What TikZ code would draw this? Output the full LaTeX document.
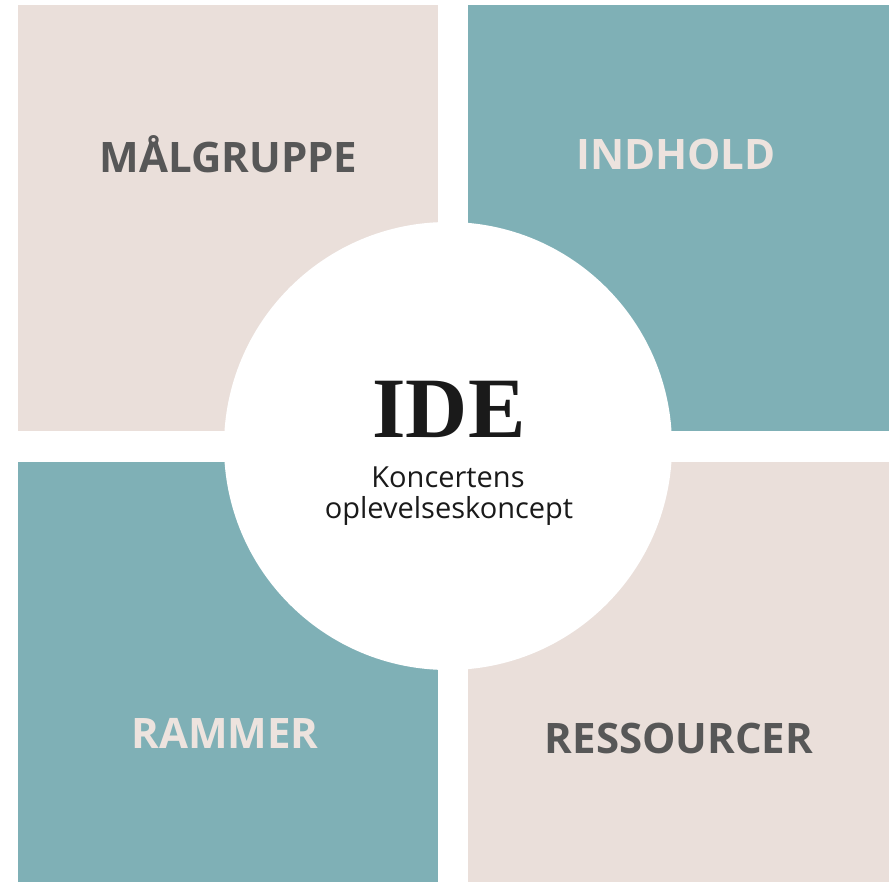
\documentclass[tikz,border=0pt]{standalone}
\usepackage{fontspec}
\setmainfont{Open Sans}
\newfontfamily\labelfont{Open Sans}[UprightFont=* Bold]
\newfontfamily\idefont{Liberation Serif}
\definecolor{beige}{HTML}{EADFDA}
\definecolor{teal}{HTML}{7FB0B6}
\definecolor{darktext}{HTML}{575757}
\definecolor{lighttext}{HTML}{EDE3DE}
\definecolor{idetext}{HTML}{1A1A1A}
\begin{document}
\begin{tikzpicture}[x=1pt,y=-1pt,
  tile/.style={draw=none},
  lbl/.style={font=\labelfont\fontsize{42}{42}\selectfont, anchor=center, inner sep=0pt},
  subtxt/.style={font=\fontsize{29}{29}\selectfont, text=idetext, inner sep=0pt, anchor=base},
  ]
\useasboundingbox (0,0) rectangle (889,882);
\fill[white] (0,0) rectangle (889,882);
\fill[tile, beige] (18,5) rectangle (438,431);
\fill[tile, teal] (468,5) rectangle (889,431);
\fill[tile, teal] (18,462) rectangle (438,882);
\fill[tile, beige] (468,462) rectangle (889,882);
\fill[white] (448,446) circle[radius=224];
\node[lbl, text=darktext] (mal) at (228.5,154) {MÅLGRUPPE};
\node[lbl, text=lighttext] (ind) at (676,154) {INDHOLD};
\node[lbl, text=lighttext] (ram) at (225,733) {RAMMER};
\node[lbl, text=darktext] (res) at (679,738) {RESSOURCER};
\node[font=\idefont\bfseries\fontsize{86}{86}\selectfont, text=idetext, inner sep=0pt, anchor=base] (ide) at (449,438) {IDE};
\node[subtxt] (sub1) at (448,487) {Koncertens};
\node[subtxt] (sub2) at (449,518) {oplevelseskoncept};
\end{tikzpicture}
\end{document}
